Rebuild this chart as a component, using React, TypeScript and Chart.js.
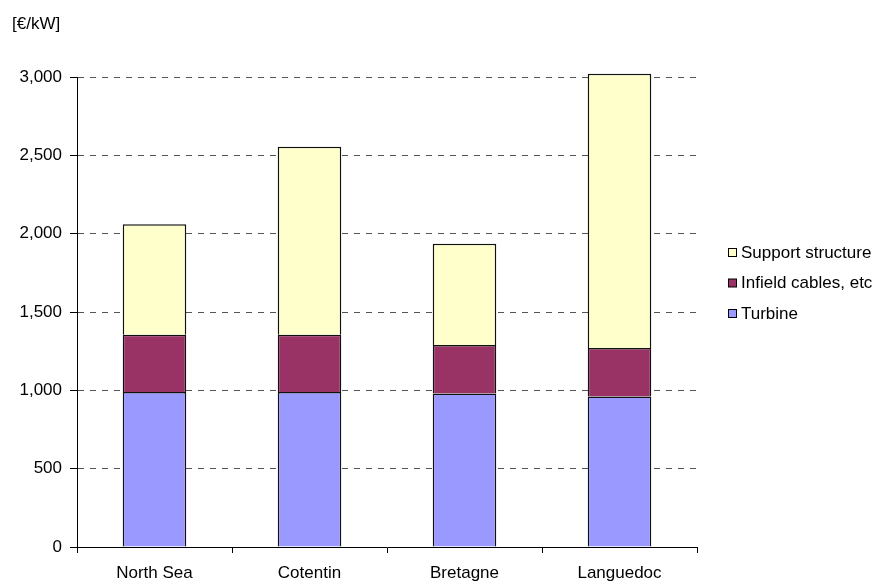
import React, { useEffect, useRef } from "react";
import { Chart, registerables } from "chart.js";

Chart.register(...registerables);

// Cost breakdown per site, in €/kW
const categories = ["North Sea", "Cotentin", "Bretagne", "Languedoc"];
const turbine = [990, 990, 980, 960];
const infieldCables = [365, 365, 310, 310];
const supportStructure = [705, 1200, 645, 1750];
const yTicks = [0, 500, 1000, 1500, 2000, 2500, 3000];
const unitLabel = "[€/kW]";

const FONT = '"Liberation Sans", Arial, Helvetica, sans-serif';
const FONT_SIZE = 17;

// Draws the unit caption and a legend listing the stack top-down
const decorations = {
  id: "decorations",
  afterDraw(chart: any) {
    const { ctx, chartArea } = chart;
    ctx.save();
    ctx.font = `${FONT_SIZE}px ${FONT}`;
    ctx.fillStyle = "#000";
    ctx.textBaseline = "middle";
    ctx.textAlign = "left";
    ctx.fillText(unitLabel, chartArea.left - 65, chartArea.top - 53);

    const items = chart.data.datasets.map((d: any) => d).reverse();
    const boxX = chartArea.right + 31;
    const startY = 252;
    const rowH = 30.5;
    items.forEach((ds: any, i: number) => {
      const cy = startY + i * rowH;
      ctx.fillStyle = ds.backgroundColor;
      ctx.fillRect(boxX + 0.5, cy - 3.5, 8, 8);
      ctx.strokeStyle = "#000";
      ctx.lineWidth = 1;
      ctx.strokeRect(boxX + 0.5, cy - 3.5, 8, 8);
      ctx.fillStyle = "#000";
      ctx.fillText(ds.label, boxX + 13, cy + 1);
    });
    ctx.restore();
  },
};

export default function App() {
  const canvasRef = useRef<HTMLCanvasElement | null>(null);

  useEffect(() => {
    const canvas = canvasRef.current;
    if (!canvas) return;
    const barStyle = {
      borderColor: "#111",
      borderWidth: 1.5,
      borderSkipped: "bottom" as const,
      barPercentage: 0.41,
      categoryPercentage: 1,
      clip: false as const,
    };
    const chart = new Chart(canvas, {
      type: "bar",
      data: {
        labels: categories,
        datasets: [
          { label: "Turbine", data: turbine, backgroundColor: "#9999FF", ...barStyle },
          { label: "Infield cables, etc", data: infieldCables, backgroundColor: "#993366", ...barStyle },
          { label: "Support structure", data: supportStructure, backgroundColor: "#FFFFCC", ...barStyle },
        ],
      },
      options: {
        animation: false,
        responsive: false,
        maintainAspectRatio: false,
        layout: { padding: { left: 0, right: 190, top: 77, bottom: 0 } },
        plugins: {
          legend: { display: false },
          tooltip: { enabled: false },
          title: { display: false },
        },
        scales: {
          x: {
            stacked: true,
            offset: true,
            grid: {
              offset: true,
              drawOnChartArea: false,
              drawTicks: true,
              tickLength: 6,
              tickColor: "#000",
              tickWidth: 1,
            },
            border: { display: true, color: "#000", width: 1 },
            ticks: {
              color: "#000",
              font: { family: FONT, size: FONT_SIZE },
              padding: 10,
              maxRotation: 0,
            },
            afterFit(scale: any) {
              scale.height = 37;
            },
          },
          y: {
            stacked: true,
            min: 0,
            max: 3000,
            afterBuildTicks(scale: any) {
              scale.ticks = yTicks.map((v) => ({ value: v }));
            },
            grid: {
              color: (c: any) => (c.tick && c.tick.value === 0 ? "rgba(0,0,0,0)" : "#555"),
              lineWidth: 1,
              drawTicks: true,
              tickLength: 7,
              tickColor: "#000",
              tickWidth: 1,
            },
            border: { display: true, color: "#000", width: 1, dash: [6, 6] },
            ticks: {
              color: "#000",
              font: { family: FONT, size: FONT_SIZE },
              padding: 8,
              callback: (v: any) => Number(v).toLocaleString("en-US"),
            },
            afterFit(scale: any) {
              scale.width = 77;
            },
          },
        },
      },
      plugins: [decorations],
    });
    return () => chart.destroy();
  }, []);

  return (
    <div style={{ position: "fixed", left: 0, top: 0, width: 887, height: 584, background: "#fff" }}>
      <canvas ref={canvasRef} width={887} height={584} />
    </div>
  );
}
